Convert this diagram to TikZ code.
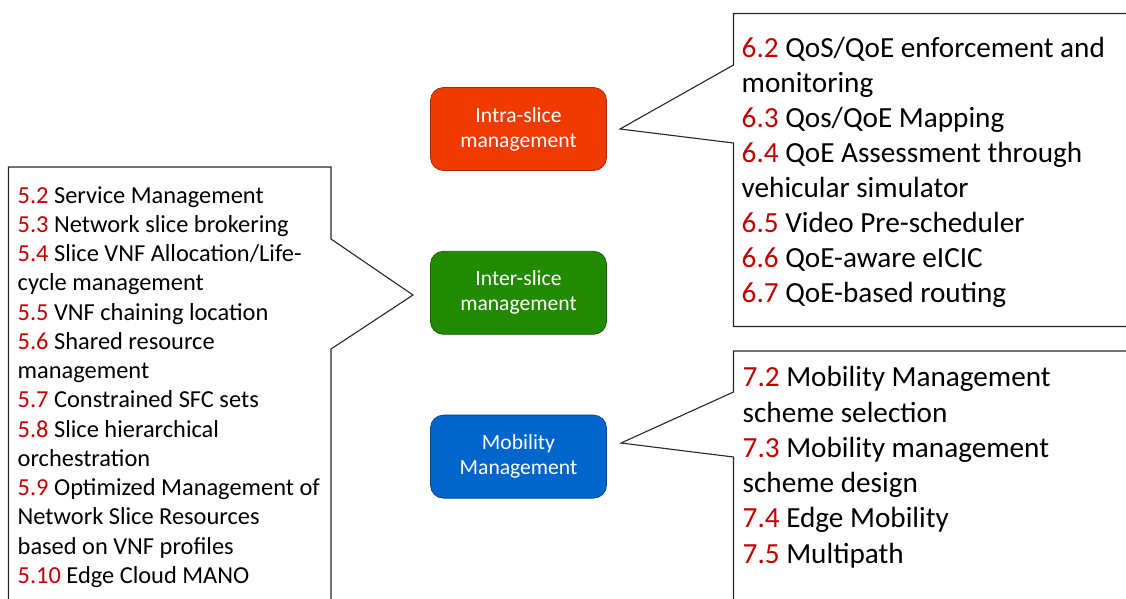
\documentclass[tikz,border=0pt]{standalone}
\usepackage{fontspec}
\setmainfont{Carlito}
\usetikzlibrary{positioning}

\definecolor{intrared}{RGB}{240,58,0}
\definecolor{intergreen}{RGB}{34,138,0}
\definecolor{mobblue}{RGB}{0,102,204}
\definecolor{secred}{RGB}{192,0,0}
\newcommand{\secno}[1]{\textcolor{secred}{#1}}

\tikzset{
    mgmtbox/.style={rounded corners=13pt, minimum width=176pt, minimum height=83pt,
        align=center, text=white, inner sep=0pt, line width=0.8pt,
        font=\fontsize{21.6}{25}\selectfont},
    callout/.style={line width=1.1pt, draw=black!85},
    smallitem/.style={anchor=base west, inner sep=0pt, font=\fontsize{24.4}{29}\selectfont},
    bigitem/.style={anchor=base west, inner sep=0pt, font=\fontsize{29.2}{35}\selectfont}
}

\begin{document}
\begin{tikzpicture}[x=1pt, y=-1pt]
    \useasboundingbox (0,0) rectangle (1126,598);
    \clip (0,0) rectangle (1126,598);

    % Management boxes
    \node[mgmtbox, fill=intrared, draw=intrared!70!black] (intra) at (518.5,129) {Intra-slice\\management};
    \node[mgmtbox, fill=intergreen, draw=intergreen!70!black, below=80pt of intra] (inter) {Inter-slice\\management};
    \node[mgmtbox, fill=mobblue, draw=mobblue!70!black, below=80pt of inter] (mob) {Mobility\\Management};

    % Callout tips
    \coordinate (tipintra) at (620,129);
    \coordinate (tipinter) at (413,295);
    \coordinate (tipmob) at (621,443);

    % Callout outlines
    % -- left
    \draw[callout] (8.5,610) -- (8.5,167) -- (331,167) -- (331,239) -- (tipinter) -- (331,349) -- (331,610);
    % -- top right
    \draw[callout] (1140,13.5) -- (733.5,13.5) -- (733.5,65) -- (tipintra) -- (733.5,143) -- (733.5,326.5) -- (1140,326.5);
    % -- bottom right
    \draw[callout] (1140,351) -- (733.5,351) -- (733.5,392) -- (tipmob) -- (733.5,457) -- (733.5,610);

    % Inter-slice items
    \foreach \txt [count=\k] in {
        {\secno{5.2} Service Management},
        {\secno{5.3} Network slice brokering},
        {\secno{5.4} Slice VNF Allocation/Life-},
        {cycle management},
        {\secno{5.5} VNF chaining location},
        {\secno{5.6} Shared resource},
        {management},
        {\secno{5.7} Constrained SFC sets},
        {\secno{5.8} Slice hierarchical},
        {orchestration},
        {\secno{5.9} Optimized Management of},
        {Network Slice Resources},
        {based on VNF profiles},
        {\secno{5.10} Edge Cloud MANO}}
        \node[smallitem] (inter\k) at (17.5,{203.3+29.23*(\k-1)}) {\txt};

    % Intra-slice items
    \foreach \txt [count=\k] in {
        {\secno{6.2} QoS/QoE enforcement and},
        {monitoring},
        {\secno{6.3} Qos/QoE Mapping},
        {\secno{6.4} QoE Assessment through},
        {vehicular simulator},
        {\secno{6.5} Video Pre-scheduler},
        {\secno{6.6} QoE-aware eICIC},
        {\secno{6.7} QoE-based routing}}
        \node[bigitem] (intra\k) at (741.5,{57.3+35*(\k-1)}) {\txt};

    % Mobility items
    \foreach \txt [count=\k] in {
        {\secno{7.2} Mobility Management},
        {scheme selection},
        {\secno{7.3} Mobility management},
        {scheme design},
        {\secno{7.4} Edge Mobility},
        {\secno{7.5} Multipath}}
        \node[bigitem] (mob\k) at (742.5,{386.7+35.3*(\k-1)}) {\txt};
\end{tikzpicture}
\end{document}
